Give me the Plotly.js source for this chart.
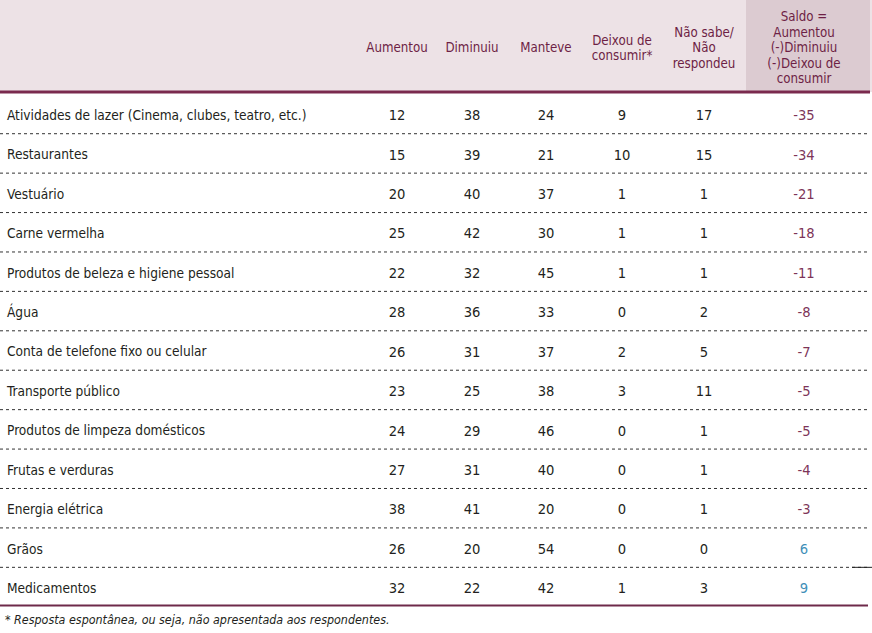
<!DOCTYPE html>
<html>
<head>
<meta charset="utf-8">
<script src="https://cdn.plot.ly/plotly-3.0.1.min.js"></script>
<style>html,body{margin:0;padding:0;background:#fff;}#chart{width:872px;height:633px;}</style>
</head>
<body>
<div id="chart"></div>
<script>
// ---- DATA ----
const categories = [
  "Atividades de lazer (Cinema, clubes, teatro, etc.)",
  "Restaurantes",
  "Vestuário",
  "Carne vermelha",
  "Produtos de beleza e higiene pessoal",
  "Água",
  "Conta de telefone fixo ou celular",
  "Transporte público",
  "Produtos de limpeza domésticos",
  "Frutas e verduras",
  "Energia elétrica",
  "Grãos",
  "Medicamentos"
];
const aumentou  = [12, 15, 20, 25, 22, 28, 26, 23, 24, 27, 38, 26, 32];
const diminuiu  = [38, 39, 40, 42, 32, 36, 31, 25, 29, 31, 41, 20, 22];
const manteve   = [24, 21, 37, 30, 45, 33, 37, 38, 46, 40, 20, 54, 42];
const deixou    = [9, 10, 1, 1, 1, 0, 2, 3, 0, 0, 0, 0, 1];
const naoSabe   = [17, 15, 1, 1, 1, 2, 5, 11, 1, 1, 1, 0, 3];
const saldo     = [-35, -34, -21, -18, -11, -8, -7, -5, -5, -4, -3, 6, 9];
const headerLines = [
  ["Aumentou"],
  ["Diminuiu"],
  ["Manteve"],
  ["Deixou de", "consumir*"],
  ["Não sabe/", "Não", "respondeu"],
  ["Saldo =", "Aumentou", "(-)Diminuiu", "(-)Deixou de", "consumir"]
];
const footnote = "* Resposta espontânea, ou seja, não apresentada aos respondentes.";

// ---- LAYOUT CONSTANTS (positions / styles) ----
const W = 872, H = 633;
const ROW0 = 114, ROWH = 39.42;          // pixel centre of first row, row pitch
const yTop = -ROW0 / ROWH;
const yBot = (H - ROW0) / ROWH;
const px2row = p => (p - ROW0) / ROWH;
const TXT_SHIFT = 2.5 / ROWH;            // text glyph centring correction
const colX = [397, 472, 546, 622, 704, 804];
const labelX = 7;
const headerCenter = px2row(49);
const headerLineStep = 15.5 / ROWH;
const headerRule = px2row(92);
const bottomRule = px2row(605.5);
const saldoX0 = 746, saldoX1 = 870;

const FONT = '"DejaVu Sans Condensed", "Liberation Sans Narrow", sans-serif';
const MAROON = '#6e1f45';
const TEXT = '#231f20';
const NEG = '#7d3558';
const POS = '#3f8fb8';
const FS = 13.6;
const FSN = 14.6;
const FSH = 13.2;

const rows = categories.map((_, i) => i);
const rowY = rows.map(i => i + TXT_SHIFT);
const traces = [];

traces.push({
  type: 'scatter', mode: 'text', x: rows.map(() => labelX), y: rowY,
  text: categories, textposition: 'middle right',
  textfont: {family: FONT, size: FS, color: TEXT}, hoverinfo: 'skip', cliponaxis: false
});
[aumentou, diminuiu, manteve, deixou, naoSabe].forEach((vals, c) => {
  traces.push({
    type: 'scatter', mode: 'text', x: rows.map(() => colX[c]), y: rowY,
    text: vals.map(String), textposition: 'middle center',
    textfont: {family: FONT, size: FSN, color: TEXT}, hoverinfo: 'skip', cliponaxis: false
  });
});
traces.push({
  type: 'scatter', mode: 'text', x: rows.map(() => colX[5]), y: rowY,
  text: saldo.map(String), textposition: 'middle center',
  textfont: {family: FONT, size: FSN, color: saldo.map(v => v < 0 ? NEG : POS)},
  hoverinfo: 'skip', cliponaxis: false
});
const hx = [], hy = [], ht = [];
headerLines.forEach((lines, c) => {
  lines.forEach((t, k) => {
    hx.push(colX[c]);
    hy.push(headerCenter + (k - (lines.length - 1) / 2) * headerLineStep);
    ht.push(t);
  });
});
traces.push({
  type: 'scatter', mode: 'text', x: hx, y: hy, text: ht, textposition: 'middle center',
  textfont: {family: FONT, size: FSH, color: MAROON}, hoverinfo: 'skip', cliponaxis: false
});

const shapes = [
  {type: 'rect', xref: 'x', yref: 'y', x0: 0, x1: W, y0: yTop, y1: headerRule,
   fillcolor: '#ede2e6', line: {width: 0}, layer: 'below'},
  {type: 'rect', xref: 'x', yref: 'y', x0: saldoX0, x1: saldoX1, y0: yTop, y1: headerRule,
   fillcolor: '#dccbd1', line: {width: 0}, layer: 'below'},
  {type: 'line', xref: 'x', yref: 'y', x0: 0, x1: saldoX1, y0: headerRule, y1: headerRule,
   line: {color: '#7a2a4e', width: 3}},
  {type: 'line', xref: 'x', yref: 'y', x0: 0, x1: 868, y0: bottomRule, y1: bottomRule,
   line: {color: '#6e2a4a', width: 2}}
];
for (let i = 0; i < categories.length - 1; i++) {
  shapes.push({type: 'line', xref: 'x', yref: 'y', x0: 0, x1: 870, y0: i + 0.5, y1: i + 0.5,
    line: {color: '#333', width: 1, dash: 'dot'}});
}
shapes.push({type: 'line', xref: 'x', yref: 'y', x0: 852, x1: 872, y0: 11.5, y1: 11.5,
  line: {color: '#222', width: 1}});

const layout = {
  width: W, height: H,
  margin: {l: 0, r: 0, t: 0, b: 0, pad: 0},
  paper_bgcolor: '#ffffff', plot_bgcolor: '#ffffff',
  showlegend: false,
  xaxis: {range: [0, W], visible: false, fixedrange: true},
  yaxis: {range: [yBot, yTop], visible: false, fixedrange: true},
  shapes: shapes,
  annotations: [{
    xref: 'x', yref: 'y', x: 3, y: px2row(619), xanchor: 'left', yanchor: 'middle',
    text: '<i>' + footnote + '</i>', showarrow: false,
    font: {family: FONT, size: 12.4, color: TEXT}
  }]
};

Plotly.newPlot('chart', traces, layout, {staticPlot: true, displayModeBar: false});
</script>
</body>
</html>
